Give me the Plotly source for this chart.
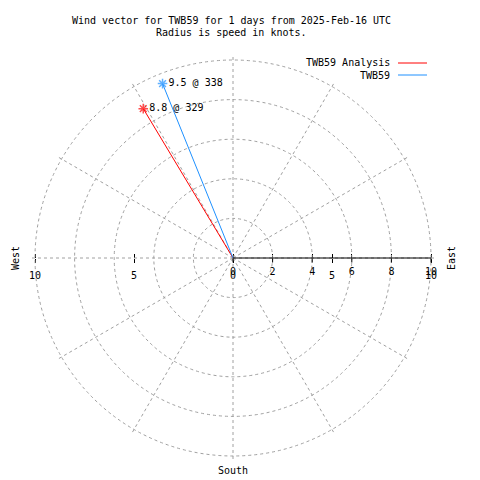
import plotly.graph_objects as go

# ---- data ----
series_names = ["TWB59 Analysis", "TWB59"]
series_colors = ["#ff0000", "#1e90ff"]
speeds_kt = [8.8, 9.5]
directions_deg = [329, 338]
radial_ticks = [0, 2, 4, 6, 8, 10]
x_tick_vals = [-10, -5, 0, 5, 10]
x_tick_text = ["10", "5", "0", "5", "10"]
title_lines = ["Wind vector for TWB59 for 1 days from 2025-Feb-16 UTC",
               "Radius is speed in knots."]

W = H = 480
cx, cy, R = 233, 258, 198
RMAX = 10.2
Rd = R * RMAX / 10
FONT = "DejaVu Sans Mono"
FS = 10

dom_x = [(cx - Rd) / W, (cx + Rd) / W]
dom_y = [1 - (cy + Rd) / H, 1 - (cy - Rd) / H]

fig = go.Figure()

# invisible helper traces for the cartesian tick axes
fig.add_trace(go.Scatter(x=x_tick_vals, y=[0] * len(x_tick_vals), mode="markers",
                         marker=dict(opacity=0), showlegend=False, hoverinfo="skip"))
fig.add_trace(go.Scatter(x=x_tick_vals, y=[0] * len(x_tick_vals), mode="markers",
                         xaxis="x2", marker=dict(opacity=0), showlegend=False,
                         hoverinfo="skip"))

for name, col, spd, d in zip(series_names, series_colors, speeds_kt, directions_deg):
    fig.add_trace(go.Scatterpolar(
        r=[0, spd], theta=[d, d], mode="lines+markers+text",
        line=dict(color=col, width=1),
        marker=dict(symbol=["circle", "asterisk-open"], size=[0, 8],
                    color=col, line=dict(color=col, width=1.5)),
        text=["", f"{spd:.1f} @ {d}"], textposition="middle right",
        textfont=dict(family=FONT, size=FS, color="black"),
        showlegend=False, hoverinfo="skip", name=name))

# black radial axis segment from 0 to 10 toward East
fig.add_trace(go.Scatterpolar(r=[0, radial_ticks[-1]], theta=[90, 90], mode="lines",
                              line=dict(color="black", width=1),
                              showlegend=False, hoverinfo="skip"))

grid_col = "#a0a0a0"
up_ticks = sorted(set(x_tick_vals + radial_ticks))
fig.update_layout(
    width=W, height=H, margin=dict(l=0, r=0, t=0, b=0, autoexpand=False),
    paper_bgcolor="white", plot_bgcolor="rgba(0,0,0,0)",
    font=dict(family=FONT, size=FS, color="black"),
    polar=dict(
        domain=dict(x=dom_x, y=dom_y), bgcolor="rgba(0,0,0,0)",
        angularaxis=dict(rotation=90, direction="clockwise", dtick=30,
                         showticklabels=False, ticks="", showline=False,
                         gridcolor=grid_col, griddash="3px,3px", gridwidth=1),
        radialaxis=dict(range=[0, RMAX], tickvals=radial_ticks, angle=0,
                        side="clockwise", showline=False,
                        ticks="outside", ticklen=4, tickcolor="black",
                        tickangle=0,
                        gridcolor=grid_col, griddash="3px,3px", gridwidth=1,
                        tickfont=dict(family=FONT, size=FS)),
    ),
    xaxis=dict(domain=dom_x, range=[-RMAX, RMAX], anchor="free", position=1 - cy / H,
               tickvals=x_tick_vals, ticktext=x_tick_text, ticks="outside",
               ticklen=4, tickcolor="black", showline=False, showgrid=False,
               automargin=False, ticklabelstandoff=4,
               zeroline=False, fixedrange=True, tickfont=dict(family=FONT, size=FS)),
    xaxis2=dict(domain=dom_x, range=[-RMAX, RMAX], anchor="free", position=1 - cy / H,
                overlaying="x", side="top", tickvals=up_ticks, ticks="outside",
                ticklen=4, tickcolor="black", showticklabels=False, showline=False,
                showgrid=False, zeroline=False, automargin=False, fixedrange=True),
    yaxis=dict(domain=dom_y, range=[-RMAX, RMAX], visible=False, fixedrange=True,
               automargin=False),
)

ann = []
ann.append(dict(x=231 / W, y=1 - 21 / H, text=title_lines[0]))
ann.append(dict(x=231 / W, y=1 - 33 / H, text=title_lines[1]))
ann.append(dict(x=15 / W, y=1 - cy / H, text="West", textangle=-90))
ann.append(dict(x=451 / W, y=1 - cy / H, text="East", textangle=-90))
ann.append(dict(x=cx / W, y=1 - 470 / H, text="South"))
for i, (name, col) in enumerate(zip(series_names, series_colors)):
    yy = 63 + 12 * i
    ann.append(dict(x=392 / W, y=1 - yy / H, text=name, xanchor="right"))
    fig.add_shape(type="line", xref="paper", yref="paper",
                  x0=398 / W, x1=427 / W, y0=1 - yy / H, y1=1 - yy / H,
                  line=dict(color=col, width=1))
for a in ann:
    a.setdefault("xanchor", "center")
    a.update(xref="paper", yref="paper", yanchor="middle", showarrow=False,
             font=dict(family=FONT, size=FS, color="black"))
    fig.add_annotation(**a)

fig.write_html("out.html", post_script="document.body.style.margin='0';",
               config={"displayModeBar": False})
